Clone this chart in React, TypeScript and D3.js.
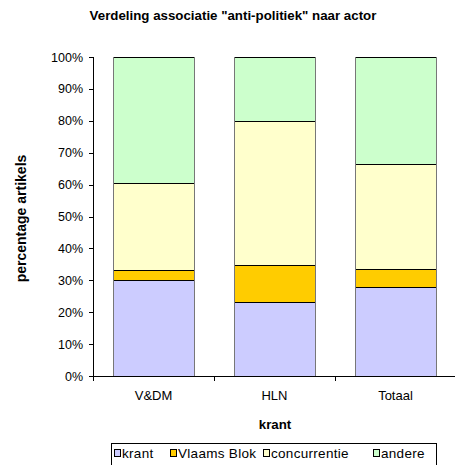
import React from "react";
import * as d3 from "d3";

const categories = ["V&DM", "HLN", "Totaal"];
const seriesNames = ["krant", "Vlaams Blok", "concurrentie", "andere"];
const krant = [30.2, 23.2, 27.9];
const vlaamsBlok = [3.0, 11.7, 5.7];
const concurrentie = [27.2, 45.1, 33.0];
const andere = [39.6, 20.0, 33.4];
const colors = ["#CCCCFF", "#FFCC00", "#FFFFCC", "#CCFFCC"];
const yTicks = [0, 10, 20, 30, 40, 50, 60, 70, 80, 90, 100];

const W = 455;
const H = 465;
const left = 93;
const right = 456;
const top = 57;
const bottom = 376;
const font = "Liberation Sans, Arial, sans-serif";

export default function App() {
  const series = [krant, vlaamsBlok, concurrentie, andere];
  const data = categories.map((c, i) => {
    const row: any = { cat: c };
    seriesNames.forEach((s, j) => (row[s] = series[j][i]));
    return row;
  });
  const stacked = d3.stack().keys(seriesNames)(data as any);
  const x = d3
    .scaleBand()
    .domain(categories)
    .range([left, right])
    .paddingInner(0.33)
    .paddingOuter(0.165);
  const y = d3.scaleLinear().domain([0, 100]).range([bottom, top]);
  const step = x.step();
  const boundaries = [0, 1, 2, 3].map((i) => left + i * step);

  const legendItems = [
    { name: "krant", sx: 114, tx: 122 },
    { name: "Vlaams Blok", sx: 170, tx: 178 },
    { name: "concurrentie", sx: 263, tx: 271 },
    { name: "andere", sx: 373, tx: 381 },
  ];

  return (
    <svg
      width={W}
      height={H}
      style={{ position: "absolute", left: 0, top: 0, background: "#fff" }}
      fontFamily={font}
    >
      <rect x={0} y={0} width={W} height={H} fill="#fff" />
      <text
        x={233}
        y={20}
        textAnchor="middle"
        fontSize={13.3}
        fontWeight="bold"
        fill="#000"
      >
        Verdeling associatie "anti-politiek" naar actor
      </text>
      {stacked.map((layer, j) =>
        layer.map((d, i) => {
          const x0 = Math.round(x(categories[i])!) + 0.5;
          const w = Math.round(x.bandwidth());
          const y0 = Math.round(y(d[1])) + 0.5;
          const y1 = Math.round(y(d[0])) + 0.5;
          return (
            <rect
              key={`${j}-${i}`}
              x={x0}
              y={y0}
              width={w}
              height={y1 - y0}
              fill={colors[j]}
              stroke="#000"
              strokeWidth={1}
            />
          );
        })
      )}
      {categories.map((c) => {
        const x0 = Math.round(x(c)!) + 0.5;
        const w = Math.round(x.bandwidth());
        return (
          <g key={c}>
            <line x1={x0} x2={x0} y1={y(100)} y2={y(0)} stroke="#777" />
            <line x1={x0 + w} x2={x0 + w} y1={y(100)} y2={y(0)} stroke="#777" />
          </g>
        );
      })}
      <line x1={left + 0.5} x2={left + 0.5} y1={top} y2={bottom + 0.5} stroke="#000" />
      {yTicks.map((t) => (
        <g key={t}>
          <line
            x1={left - 4}
            x2={left}
            y1={Math.round(y(t)) + 0.5}
            y2={Math.round(y(t)) + 0.5}
            stroke="#000"
          />
          <text
            x={left - 10}
            y={y(t) + 4.5}
            textAnchor="end"
            fontSize={12.5}
            fill="#000"
          >
            {t}%
          </text>
        </g>
      ))}
      <line x1={left} x2={W} y1={bottom + 0.5} y2={bottom + 0.5} stroke="#000" />
      {boundaries.map((b, i) => (
        <line
          key={i}
          x1={Math.round(b) + 0.5}
          x2={Math.round(b) + 0.5}
          y1={bottom}
          y2={bottom + 5}
          stroke="#000"
        />
      ))}
      {categories.map((c) => (
        <text
          key={c}
          x={x(c)! + x.bandwidth() / 2}
          y={400}
          textAnchor="middle"
          fontSize={13}
          fill="#000"
        >
          {c}
        </text>
      ))}
      <text
        x={275}
        y={429}
        textAnchor="middle"
        fontSize={13.3}
        fontWeight="bold"
        fill="#000"
      >
        krant
      </text>
      <text
        transform={`translate(26,${(top + bottom) / 2 + 2}) rotate(-90)`}
        textAnchor="middle"
        fontSize={14}
        fontWeight="bold"
        fill="#000"
      >
        percentage artikels
      </text>
      <rect x={111.5} y={443.5} width={325} height={30} fill="#fff" stroke="#000" />
      {legendItems.map((it, j) => (
        <g key={it.name}>
          <rect x={it.sx + 0.5} y={449.5} width={6} height={7} fill={colors[j]} stroke="#000" />
          <text x={it.tx} y={458} fontSize={13.5} letterSpacing={0.3} fill="#000">
            {it.name}
          </text>
        </g>
      ))}
    </svg>
  );
}
